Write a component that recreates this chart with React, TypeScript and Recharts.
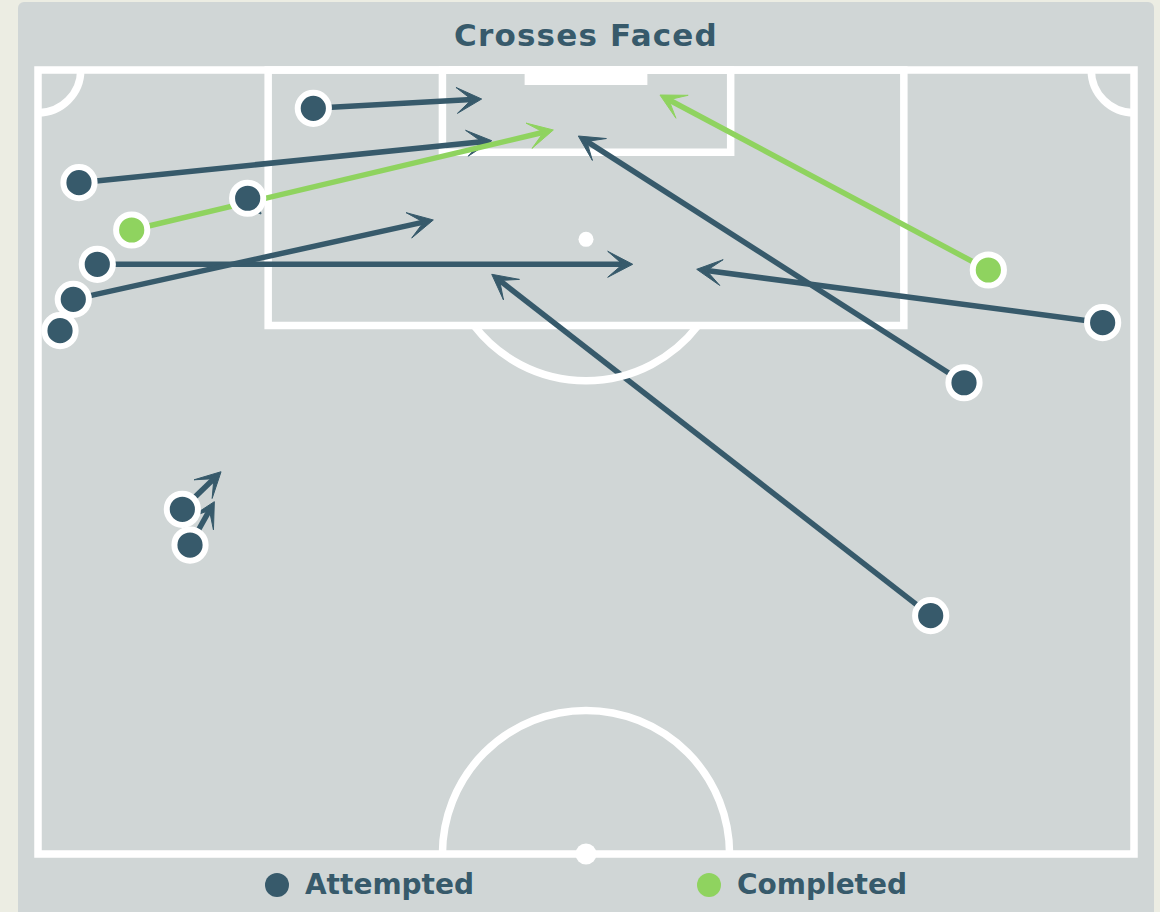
import React from "react";
import {
  ScatterChart,
  Scatter,
  XAxis,
  YAxis,
  ReferenceArea,
  ReferenceLine,
  ReferenceDot,
} from "recharts";

// pitch units: x 0-100 across the pitch, y 0-100 from goal line (top) to halfway line
const attemptedStartX = [25.12, 3.74, 5.41, 3.22, 2.01, 19.13, 84.49, 97.14, 81.45, 13.17, 13.87];
const attemptedStartY = [4.89, 14.37, 24.78, 29.25, 33.25, 16.36, 39.89, 32.23, 69.6, 56.03, 60.59];
const attemptedEndX = [40.48, 41.4, 54.26, 36.07, 2.01, 20.35, 49.3, 60.1, 41.4, 16.7, 16.09];
const attemptedEndY = [3.7, 9.02, 24.78, 19.13, 33.25, 18.37, 8.42, 25.42, 26.06, 51.24, 55.06];

const completedStartX = [8.55, 86.71];
const completedStartY = [20.41, 25.51];
const completedEndX = [47.02, 56.75];
const completedEndY = [7.65, 3.19];

const seriesNames = ["Attempted", "Completed"];

const DARK = "#375a6b";
const GREEN = "#8fd35f";
const LINE = "#ffffff";
const FONT = "'DejaVu Sans', sans-serif";
const PITCH_W = 7.5;

const CHART_W = 1160;
const CHART_H = 912;
const MARGIN = { top: 70, right: 26, bottom: 58, left: 38 };
const PX_X = (CHART_W - MARGIN.left - MARGIN.right) / 100;
const PX_Y = (CHART_H - MARGIN.top - MARGIN.bottom) / 100;

// pitch markings, same units
const boxes = [
  { x1: 0, x2: 100, y1: 0, y2: 100 },
  { x1: 21, x2: 79, y1: 0, y2: 32.6 },
  { x1: 36.9, x2: 63.2, y1: 0, y2: 10.5 },
];
const goal = { x1: 44.4, x2: 55.6, y1: 0, y2: 1.9 };
const penaltySpot = { x: 50, y: 21.6 };
const centreSpot = { x: 50, y: 100 };
const centreRadius = 13.1;
const arcRadius = 12.9;
const cornerRadius = 3.9;

const build = (sx: number[], sy: number[], ex: number[], ey: number[]) =>
  sx.map((x, i) => ({ x, y: sy[i], ex: ex[i], ey: ey[i] }));

const attempted = build(attemptedStartX, attemptedStartY, attemptedEndX, attemptedEndY);
const completed = build(completedStartX, completedStartY, completedEndX, completedEndY);

function Arrow(props: any) {
  const { x1, y1, x2, y2, color } = props;
  const len = Math.hypot(x2 - x1, y2 - y1);
  if (!len || len < 1) return <g />;
  const ux = (x2 - x1) / len;
  const uy = (y2 - y1) / len;
  const nx = x2 - ux * 10;
  const ny = y2 - uy * 10;
  const bx = x2 - ux * 25;
  const by = y2 - uy * 25;
  const w = 13;
  const pts = [
    [x2, y2],
    [bx - uy * w, by + ux * w],
    [nx, ny],
    [bx + uy * w, by - ux * w],
  ]
    .map((p) => p.join(","))
    .join(" ");
  return (
    <g>
      <line x1={x1} y1={y1} x2={nx} y2={ny} stroke={color} strokeWidth={5.5} />
      <polygon points={pts} fill={color} stroke={color} strokeWidth={1} strokeLinejoin="miter" />
    </g>
  );
}

const startDot = (color: string) => (props: any) => (
  <circle cx={props.cx} cy={props.cy} r={15.6} fill={color} stroke="#ffffff" strokeWidth={6} />
);

export default function App() {
  const dy = (32.6 - penaltySpot.y) * PX_Y;
  return (
    <div style={{ position: "fixed", inset: 0, background: "#ecede3", overflow: "hidden" }}>
      <div
        style={{
          position: "absolute",
          left: 18,
          top: 2,
          width: 1136,
          height: 940,
          background: "#d0d6d6",
          borderRadius: 6,
        }}
      />
      <div
        style={{
          position: "absolute",
          left: 18,
          width: 1136,
          top: 16,
          lineHeight: "38px",
          textAlign: "center",
          fontFamily: FONT,
          fontWeight: 700,
          fontSize: 31,
          letterSpacing: 1.2,
          color: DARK,
        }}
      >
        Crosses Faced
      </div>
      <div style={{ position: "absolute", left: 0, top: 0 }}>
        <ScatterChart width={CHART_W} height={CHART_H} margin={MARGIN}>
          <XAxis type="number" dataKey="x" domain={[0, 100]} hide />
          <YAxis type="number" dataKey="y" domain={[0, 100]} reversed hide />
          {boxes.map((b, i) => (
            <ReferenceArea
              key={"box" + i}
              {...b}
              fill="none"
              fillOpacity={0}
              stroke={LINE}
              strokeWidth={PITCH_W}
              ifOverflow="visible"
            />
          ))}
          <ReferenceArea {...goal} fill={LINE} fillOpacity={1} stroke="none" ifOverflow="visible" />
          <ReferenceDot
            x={0}
            y={0}
            r={1}
            ifOverflow="visible"
            shape={(p: any) => {
              const r = cornerRadius * PX_X;
              return (
                <path
                  d={`M${p.cx},${p.cy + r} A${r},${r} 0 0 0 ${p.cx + r},${p.cy}`}
                  fill="none"
                  stroke={LINE}
                  strokeWidth={PITCH_W}
                />
              );
            }}
          />
          <ReferenceDot
            x={100}
            y={0}
            r={1}
            ifOverflow="visible"
            shape={(p: any) => {
              const r = cornerRadius * PX_X;
              return (
                <path
                  d={`M${p.cx - r},${p.cy} A${r},${r} 0 0 0 ${p.cx},${p.cy + r}`}
                  fill="none"
                  stroke={LINE}
                  strokeWidth={PITCH_W}
                />
              );
            }}
          />
          <ReferenceDot
            x={penaltySpot.x}
            y={penaltySpot.y}
            r={7.5}
            ifOverflow="visible"
            shape={(p: any) => {
              const r = arcRadius * PX_X;
              const dx = Math.sqrt(r * r - dy * dy);
              return (
                <g>
                  <path
                    d={`M${p.cx - dx},${p.cy + dy} A${r},${r} 0 0 0 ${p.cx + dx},${p.cy + dy}`}
                    fill="none"
                    stroke={LINE}
                    strokeWidth={PITCH_W}
                  />
                  <circle cx={p.cx} cy={p.cy} r={7.5} fill={LINE} />
                </g>
              );
            }}
          />
          <ReferenceDot
            x={centreSpot.x}
            y={centreSpot.y}
            r={10.5}
            ifOverflow="visible"
            shape={(p: any) => {
              const r = centreRadius * PX_X;
              return (
                <g>
                  <path
                    d={`M${p.cx - r},${p.cy} A${r},${r} 0 0 1 ${p.cx + r},${p.cy}`}
                    fill="none"
                    stroke={LINE}
                    strokeWidth={PITCH_W}
                  />
                  <circle cx={p.cx} cy={p.cy} r={10.5} fill={LINE} />
                </g>
              );
            }}
          />
          {attempted.map((d, i) => (
            <ReferenceLine
              key={"a" + i}
              segment={[
                { x: d.x, y: d.y },
                { x: d.ex, y: d.ey },
              ]}
              ifOverflow="visible"
              shape={(p: any) => <Arrow {...p} color={DARK} />}
            />
          ))}
          {completed.map((d, i) => (
            <ReferenceLine
              key={"c" + i}
              segment={[
                { x: d.x, y: d.y },
                { x: d.ex, y: d.ey },
              ]}
              ifOverflow="visible"
              shape={(p: any) => <Arrow {...p} color={GREEN} />}
            />
          ))}
          <Scatter name={seriesNames[0]} data={attempted} shape={startDot(DARK)} isAnimationActive={false} />
          <Scatter name={seriesNames[1]} data={completed} shape={startDot(GREEN)} isAnimationActive={false} />
        </ScatterChart>
      </div>
      <div
        style={{
          position: "absolute",
          left: 18,
          width: 1136,
          top: 869,
          display: "flex",
          justifyContent: "center",
          gap: 223,
          fontFamily: FONT,
          fontWeight: 700,
          fontSize: 28,
          lineHeight: "32px",
          color: DARK,
        }}
      >
        {seriesNames.map((name, i) => (
          <div key={name} style={{ display: "flex", alignItems: "center" }}>
            <span
              style={{
                width: 24,
                height: 24,
                borderRadius: 12,
                background: i === 0 ? DARK : GREEN,
                marginRight: 16,
              }}
            />
            {name}
          </div>
        ))}
      </div>
    </div>
  );
}
